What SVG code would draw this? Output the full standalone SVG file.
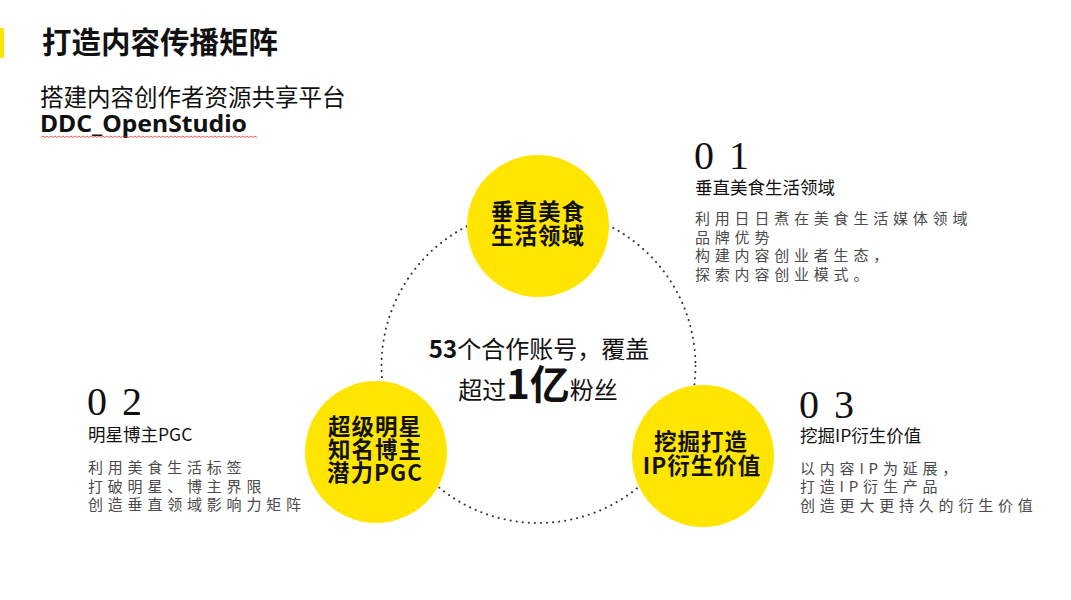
<svg xmlns="http://www.w3.org/2000/svg" width="1071" height="600" viewBox="0 0 1071 600">
<style>
text{font-family:"Noto Sans CJK SC","Noto Sans",sans-serif;fill:#111}
.h{font-weight:700;font-size:29.5px}
.sub{font-size:23.5px}
.en{font-family:"Noto Sans","Noto Sans CJK SC",sans-serif;font-weight:700;font-size:24px}
.num{font-family:"Liberation Serif",serif;font-size:40px;letter-spacing:2.5px}
.lab{font-size:17.5px}
.desc{font-size:15px;letter-spacing:4.8px;fill:#4a4a4a}
.ct{font-weight:700;font-size:22.5px;letter-spacing:1px;text-anchor:middle}
.mid{font-size:24px;text-anchor:middle}
.node{fill:#FFE500}
.ring{fill:none;stroke:#333;stroke-width:2;stroke-linecap:round;stroke-dasharray:0.1 6}
</style>
<rect width="1071" height="600" fill="#fff"/>
<rect x="0" y="28" width="4" height="30" fill="#FFE500"/>
<text class="h" x="42" y="53">打造内容传播矩阵</text>
<text class="sub" x="40" y="106">搭建内容创作者资源共享平台</text>
<text class="en" x="40" y="132" textLength="207" lengthAdjust="spacingAndGlyphs">DDC_OpenStudio</text>
<path d="M41 137.5 l2 -1.5 l2 1.5 l2 -1.5 l2 1.5 l2 -1.5 l2 1.5 l2 -1.5 l2 1.5 l2 -1.5 l2 1.5 l2 -1.5 l2 1.5 l2 -1.5 l2 1.5 l2 -1.5 l2 1.5 l2 -1.5 l2 1.5 l2 -1.5 l2 1.5 l2 -1.5 l2 1.5 l2 -1.5 l2 1.5 l2 -1.5 l2 1.5 l2 -1.5 l2 1.5 l2 -1.5 l2 1.5 l2 -1.5 l2 1.5 l2 -1.5 l2 1.5 l2 -1.5 l2 1.5 l2 -1.5 l2 1.5 l2 -1.5 l2 1.5 l2 -1.5 l2 1.5 l2 -1.5 l2 1.5 l2 -1.5 l2 1.5 l2 -1.5 l2 1.5 l2 -1.5 l2 1.5 l2 -1.5 l2 1.5 l2 -1.5 l2 1.5 l2 -1.5 l2 1.5 l2 -1.5 l2 1.5 l2 -1.5 l2 1.5 l2 -1.5 l2 1.5 l2 -1.5 l2 1.5 l2 -1.5 l2 1.5 l2 -1.5 l2 1.5 l2 -1.5 l2 1.5 l2 -1.5 l2 1.5 l2 -1.5 l2 1.5 l2 -1.5 l2 1.5 l2 -1.5 l2 1.5 l2 -1.5 l2 1.5 l2 -1.5 l2 1.5 l2 -1.5 l2 1.5 l2 -1.5 l2 1.5 l2 -1.5 l2 1.5 l2 -1.5 l2 1.5 l2 -1.5 l2 1.5 l2 -1.5 l2 1.5 l2 -1.5 l2 1.5 l2 -1.5 l2 1.5 l2 -1.5 l2 1.5 l2 -1.5 l2 1.5 l2 -1.5 l2 1.5 l2 -1.5 l2 1.5 l2 -1.5 l2 1.5" fill="none" stroke="#e03030" stroke-width="0.8"/>

<g id="connectors">
<circle class="ring" cx="538.5" cy="366" r="157"/>
</g>

<g id="center">
<text class="mid" x="539" y="358"><tspan font-weight="700">53</tspan>个合作账号，覆盖</text>
<text class="mid" x="538" y="399">超过<tspan font-weight="700" font-size="40">1亿</tspan>粉丝</text>
</g>

<g id="node1">
<circle class="node" cx="538" cy="226" r="71"/>
<text class="ct" x="538" y="220">垂直美食</text>
<text class="ct" x="538" y="244">生活领域</text>
</g>
<g id="node2">
<circle class="node" cx="376" cy="452" r="71"/>
<text class="ct" x="375" y="435">超级明星</text>
<text class="ct" x="375" y="458">知名博主</text>
<text class="ct" x="375" y="481">潜力PGC</text>
</g>
<g id="node3">
<circle class="node" cx="703" cy="456" r="71"/>
<text class="ct" x="701" y="450">挖掘打造</text>
<text class="ct" x="702" y="474">IP衍生价值</text>
</g>

<g id="info1">
<text class="num" x="694" y="169">0 1</text>
<text class="lab" x="695" y="194">垂直美食生活领域</text>
<text class="desc" x="695" y="224">利用日日煮在美食生活媒体领域</text>
<text class="desc" x="695" y="243">品牌优势</text>
<text class="desc" x="695" y="261">构建内容创业者生态，</text>
<text class="desc" x="695" y="280">探索内容创业模式。</text>
</g>
<g id="info2">
<text class="num" x="87" y="415">0 2</text>
<text class="lab" x="88" y="441">明星博主PGC</text>
<text class="desc" x="88" y="473">利用美食生活标签</text>
<text class="desc" x="88" y="492">打破明星、博主界限</text>
<text class="desc" x="88" y="510">创造垂直领域影响力矩阵</text>
</g>
<g id="info3">
<text class="num" x="799" y="418">0 3</text>
<text class="lab" x="800" y="442">挖掘IP衍生价值</text>
<text class="desc" x="800" y="474">以内容IP为延展，</text>
<text class="desc" x="800" y="492">打造IP衍生产品</text>
<text class="desc" x="800" y="511">创造更大更持久的衍生价值</text>
</g>
</svg>
